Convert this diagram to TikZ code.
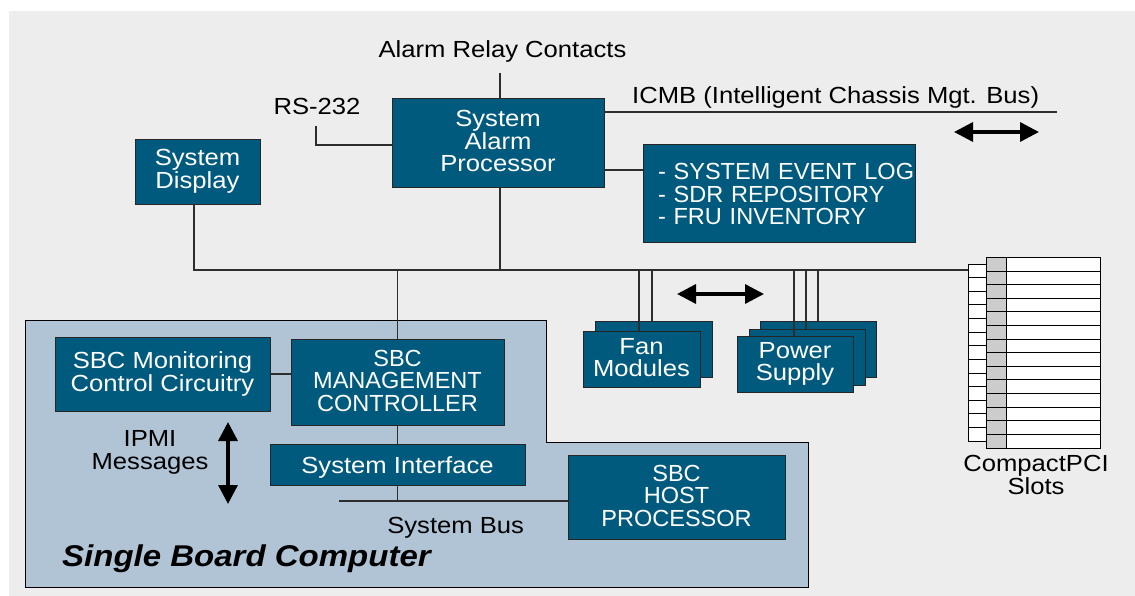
\documentclass[tikz,border=0pt]{standalone}
\usepackage{fontspec}
\setmainfont{Liberation Sans}[FakeStretch=1.1]
\newfontfamily\capsfamily{Liberation Sans}[FakeStretch=1.01]
\usetikzlibrary{arrows.meta,calc}
\definecolor{boxblue}{RGB}{0,90,125}
\definecolor{panelgray}{RGB}{237,237,237}
\definecolor{sbcfill}{RGB}{176,196,214}
\definecolor{slotgray}{RGB}{204,204,204}
\definecolor{wirecol}{RGB}{45,45,45}
\newcommand\dgfont{\fontsize{23.3}{22.5}\selectfont}
\newcommand\dgcaps{\capsfamily\fontsize{23.3}{22.5}\selectfont}
\newcommand\dgbig{\fontsize{30}{36}\selectfont\bfseries\itshape}

\begin{document}
\begin{tikzpicture}[x=1pt,y=-1pt,
  capline/.style={execute at begin node={\rule{0pt}{22pt}},
    execute at end node={\rule[-3pt]{0pt}{0pt}}},
  box/.style={draw=black!85, line width=0.8pt, fill=boxblue, text=white,
    inner sep=0pt, align=center, font=\dgfont, capline},
  capsbox/.style={box, font=\dgcaps},
  wire/.style={draw=wirecol, line width=1.1pt},
  lbl/.style={inner sep=0pt, align=center, font=\dgfont},
  slotline/.style={draw=black, line width=0.8pt},
  bigarrow/.style={line width=3.4pt,
    {Triangle[length=19pt,width=19pt]}-{Triangle[length=19pt,width=19pt]}}]

% canvas and panel
\useasboundingbox (0,0) rectangle (1135,596);
\fill[white] (0,0) rectangle (1135,596);
\fill[panelgray] (9,11) rectangle (1135,596);

% single board computer area
\draw[fill=sbcfill, draw=black, line width=0.8pt]
  (25,320) -- (546,320) -- (546,442) -- (808,442) -- (808,587) -- (25,587) -- cycle;

% free ends of connectors
\coordinate (arcend) at (500,73);
\coordinate (rsend) at (316,126);
\coordinate (icmbend) at (1057,112);
\coordinate (slotin) at (968,270);
\coordinate (sysbusL) at (339,501);

% boxes
\node[box, minimum width=125pt, minimum height=65pt] (disp) at (197.5,171.5) {System\\Display};
\node[box, minimum width=212pt, minimum height=89pt] (sap) at (498,142.5) {System\\Alarm\\Processor};
\node[capsbox, minimum height=98pt, text width=242pt, inner xsep=15pt, align=left] (sel) at (779,193)
  {\mbox{- SYSTEM EVENT LOG}\\\mbox{- SDR REPOSITORY}\\\mbox{- FRU INVENTORY}};

\node[box, minimum width=117pt, minimum height=56pt] (fanb) at (653.5,349) {};
\node[box, minimum width=117pt, minimum height=56pt] (fanf) at (641.5,359) {Fan\\Modules};

\node[box, minimum width=116pt, minimum height=56pt] (pwrb) at (818,349) {};
\node[box, minimum width=116pt, minimum height=56pt] (pwrm) at (807,357.5) {};
\node[box, minimum width=116pt, minimum height=56pt] (pwrf) at (795,364) {Power\\Supply};

\node[box, minimum width=215pt, minimum height=74pt] (mon) at (162.5,374) {SBC Monitoring\\Control Circuitry};
\node[capsbox, minimum width=213pt, minimum height=86pt] (mgmt) at (397.5,382) {SBC\\MANAGEMENT\\CONTROLLER};
\node[box, minimum width=255pt, minimum height=41pt] (si) at (397.5,464.5) {System Interface};
\node[capsbox, minimum width=217pt, minimum height=84pt] (host) at (676.5,497) {SBC\\HOST\\PROCESSOR};

% labels
\node[lbl, anchor=base] (arc) at (502.5,57.5) {Alarm Relay Contacts};
\node[lbl, anchor=base] (rs) at (317,115) {RS-232};
\node[lbl, anchor=base west] (icmb) at (632,104) {ICMB (Intelligent Chassis Mgt. Bus)};
\node[lbl, capline, anchor=north] (ipmi) at (150,430.5) {IPMI\\Messages};
\node[lbl, anchor=base] (sysbus) at (455.7,533) {System Bus};
\node[lbl, capline, anchor=north] (cpci) at (1036,455.5) {CompactPCI\\Slots};
\node[inner sep=0pt, anchor=base west, font=\dgbig] (sbc) at (62,566.5) {Single Board Computer};

% alarm processor connections
\draw[wire] (sap.north -| arcend) -- (arcend);
\draw[wire] (sap.west |- 0,145) -| (rsend);
\draw[wire] (sap.east |- icmbend) -- (icmbend);
\draw[wire] (sap.east |- 0,170) -- (sel.west |- 0,170);

% main management bus
\draw[wire] ([xshift=-3.5pt]disp.south) |- (slotin);
\draw[wire] (sap.south -| 500,0) -- (500,270);
\draw[wire] (mgmt.north) -- (mgmt.north |- slotin);
\draw[wire] (fanf.north -| 639,0) -- (639,270);
\draw[wire] (fanb.north -| 652,0) -- (652,270);
\draw[wire] (pwrf.north -| 794,0) -- (794,270);
\draw[wire] (pwrm.north -| 806,0) -- (806,270);
\draw[wire] (pwrb.north -| 818,0) -- (818,270);

% single board computer internals
\draw[wire] (mon.east) -- (mon.east -| mgmt.west);
\draw[wire] (mgmt.south) -- (si.north);
\draw[wire] (si.south) -- (si.south |- sysbusL);
\draw[wire] (sysbusL) -- (host.west |- sysbusL);

% CompactPCI slots
\foreach \i in {0,...,13} {
  \draw[slotline, fill=slotgray] (986,{257.3+13.62*\i}) rectangle (1006.3,{270.92+13.62*\i});
  \draw[slotline, fill=white] (1006.3,{257.3+13.62*\i}) rectangle (1100,{270.92+13.62*\i});
}
\foreach \j in {0,...,12} {
  \draw[slotline, fill=white] (968,{264+13.62*\j}) rectangle (986,{277.62+13.62*\j});
}

% direction arrows
\coordinate (icmbL) at (954,132);
\coordinate (icmbR) at (1039,132);
\coordinate (fpL) at (677,294);
\coordinate (fpR) at (764,294);
\coordinate (ipT) at (228,422);
\coordinate (ipB) at (228,504);
\draw[bigarrow] (icmbL) -- (icmbR);
\draw[bigarrow] (fpL) -- (fpR);
\draw[bigarrow] (ipT) -- (ipB);
\end{tikzpicture}
\end{document}
